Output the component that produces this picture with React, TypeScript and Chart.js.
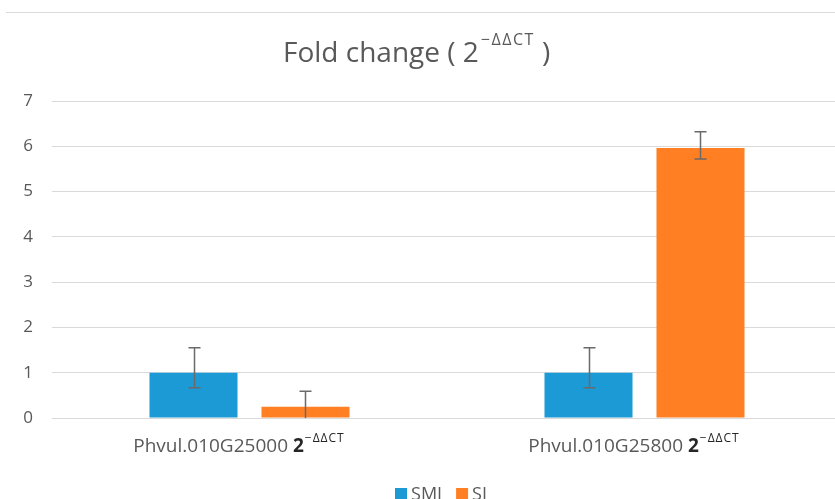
import React, { useEffect, useRef } from "react";
import { Chart, registerables } from "chart.js";
Chart.register(...registerables);

const categories = ["Phvul.010G25000", "Phvul.010G25800"];
const seriesNames = ["SMI", "SI"];
const seriesColors = ["#1B9AD6", "#FF7F22"];
const smiValues = [1.0, 1.0];
const siValues = [0.25, 5.96];
const smiErrLow = [0.67, 0.67];
const smiErrHigh = [1.55, 1.55];
const siErrLow = [0.0, 5.72];
const siErrHigh = [0.59, 6.32];
const yMin = 0;
const yMax = 7;
const yStep = 1;
const titleMain = "Fold change ( 2";
const titleSup = "\u2212\u0394\u0394CT";
const titleEnd = ")";
const labelBase = "2";
const labelSup = "\u2212\u0394\u0394CT";

const FONT = "'Open Sans', sans-serif";
const GRAY = "#595959";

const overlay = {
  id: "overlay",
  afterDatasetsDraw(chart: any) {
    const ctx = chart.ctx;
    const y = chart.scales.y;
    ctx.save();
    ctx.strokeStyle = "#6a6a6a";
    ctx.lineWidth = 1.5;
    chart.data.datasets.forEach((ds: any, di: number) => {
      const meta = chart.getDatasetMeta(di);
      meta.data.forEach((bar: any, i: number) => {
        const px = Math.round(bar.x) + 0.5;
        const yl = y.getPixelForValue(ds.errLow[i]);
        const yh = y.getPixelForValue(ds.errHigh[i]);
        const cap = 6;
        ctx.beginPath();
        ctx.moveTo(px, yl);
        ctx.lineTo(px, yh);
        ctx.moveTo(px - cap, yh);
        ctx.lineTo(px + cap, yh);
        if (ds.errLow[i] > 0) {
          ctx.moveTo(px - cap, yl);
          ctx.lineTo(px + cap, yl);
        }
        ctx.stroke();
      });
    });
    ctx.restore();
  },
  afterDraw(chart: any) {
    const ctx = chart.ctx;
    const x = chart.scales.x;
    ctx.save();
    // outer top border
    ctx.strokeStyle = "#d9d9d9";
    ctx.lineWidth = 1;
    ctx.beginPath();
    ctx.moveTo(6, 12.5);
    ctx.lineTo(842, 12.5);
    ctx.stroke();

    // title
    ctx.textBaseline = "alphabetic";
    ctx.textAlign = "left";
    const mainFont = `28px ${FONT}`;
    const supFont = `16px ${FONT}`;
    ctx.font = mainFont;
    const w1 = ctx.measureText(titleMain).width;
    const tx = 283;
    const tb = 62;
    ctx.fillStyle = GRAY;
    ctx.fillText(titleMain, tx, tb);
    ctx.font = supFont;
    (ctx as any).letterSpacing = "1.5px";
    const w2 = ctx.measureText(titleSup).width;
    ctx.fillText(titleSup, tx + w1 + 2, tb - 17);
    (ctx as any).letterSpacing = "0px";
    ctx.font = mainFont;
    ctx.fillText(titleEnd, tx + w1 + w2 + 9, tb);

    // x labels
    const lblFont = `19px ${FONT}`;
    const baseFont = `bold 19px ${FONT}`;
    const sFont = `12px ${FONT}`;
    categories.forEach((c, i) => {
      const cx = x.getPixelForValue(i) - 11;
      ctx.font = lblFont;
      const a = ctx.measureText(c + " ").width;
      ctx.font = baseFont;
      const b = ctx.measureText(labelBase).width;
      ctx.font = sFont;
      (ctx as any).letterSpacing = "1px";
      const s = ctx.measureText(labelSup).width;
      (ctx as any).letterSpacing = "0px";
      const total = a + b + s;
      let lx = cx - total / 2;
      const by = 452;
      ctx.fillStyle = GRAY;
      ctx.font = lblFont;
      ctx.fillText(c + " ", lx, by);
      lx += a;
      ctx.fillStyle = "#262626";
      ctx.font = baseFont;
      ctx.fillText(labelBase, lx, by);
      lx += b + 1;
      ctx.font = sFont;
      (ctx as any).letterSpacing = "1px";
      ctx.fillText(labelSup, lx, by - 10);
      (ctx as any).letterSpacing = "0px";
    });

    // legend
    const legFont = `18px ${FONT}`;
    ctx.font = legFont;
    const box = 12;
    const gapBoxText = 4;
    const gapItems = 14;
    const widths = chart.data.datasets.map((d: any) => box + gapBoxText + ctx.measureText(d.label).width);
    const totalW = widths.reduce((p: number, v: number) => p + v, 0) + gapItems * (widths.length - 1);
    let lx = 441 - totalW / 2;
    chart.data.datasets.forEach((d: any, i: number) => {
      ctx.fillStyle = d.backgroundColor;
      ctx.fillRect(lx, 488, box, box);
      ctx.fillStyle = GRAY;
      ctx.fillText(d.label, lx + box + gapBoxText, 500);
      lx += widths[i] + gapItems;
    });
    ctx.restore();
  },
};

export default function App() {
  const ref = useRef<HTMLCanvasElement | null>(null);
  useEffect(() => {
    if (!ref.current) return;
    const chart = new Chart(ref.current, {
      type: "bar",
      data: {
        labels: categories,
        datasets: [
          {
            label: seriesNames[0],
            data: smiValues,
            backgroundColor: seriesColors[0],
            errLow: smiErrLow,
            errHigh: smiErrHigh,
            categoryPercentage: 0.567,
            barPercentage: 0.786,
          } as any,
          {
            label: seriesNames[1],
            data: siValues,
            backgroundColor: seriesColors[1],
            errLow: siErrLow,
            errHigh: siErrHigh,
            categoryPercentage: 0.567,
            barPercentage: 0.786,
          } as any,
        ],
      },
      options: {
        responsive: false,
        animation: false,
        devicePixelRatio: 1,
        layout: { padding: { top: 101, bottom: 81, left: 0, right: 0 } },
        plugins: {
          legend: { display: false },
          title: { display: false },
          tooltip: { enabled: false },
        },
        scales: {
          x: {
            grid: { display: false },
            border: { display: false },
            ticks: { display: false },
            afterFit: (s: any) => {
              s.height = 0;
            },
          },
          y: {
            min: yMin,
            max: yMax,
            ticks: {
              stepSize: yStep,
              color: GRAY,
              font: { family: FONT, size: 17 },
              padding: 19,
            },
            grid: { color: "#d9d9d9", drawTicks: false, lineWidth: 1 },
            border: { display: false },
            afterFit: (s: any) => {
              s.width = 52;
            },
          },
        },
      },
      plugins: [overlay],
    });
    return () => chart.destroy();
  }, []);
  return (
    <div style={{ position: "fixed", left: 0, top: 0, width: 842, height: 499, background: "#fff" }}>
      <canvas ref={ref} width={842} height={499} style={{ display: "block" }} />
    </div>
  );
}
